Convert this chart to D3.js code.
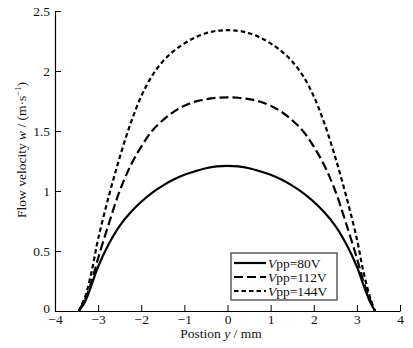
<!DOCTYPE html>
<html><head><meta charset="utf-8">
<script src="https://cdn.jsdelivr.net/npm/d3@7"></script>
<style>body{margin:0;background:#fff}svg{display:block}text{font-family:"Liberation Serif","Times New Roman",serif !important;fill:#111}</style>
</head><body>
<script>
const positions = [-3.45,-3.3,-3.15,-3.0,-2.75,-2.5,-2.25,-2.0,-1.75,-1.5,-1.25,-1.0,-0.75,-0.5,-0.25,0,0.25,0.5,0.75,1.0,1.25,1.5,1.75,2.0,2.25,2.5,2.75,3.0,3.15,3.3,3.42];
const v80  = [0,0.08,0.22,0.37,0.56,0.71,0.82,0.91,0.985,1.045,1.095,1.135,1.165,1.19,1.205,1.21,1.205,1.19,1.165,1.135,1.095,1.045,0.985,0.91,0.82,0.71,0.56,0.37,0.22,0.08,0];
const v112 = [0,0.10,0.25,0.44,0.73,1.0,1.21,1.37,1.50,1.59,1.66,1.71,1.745,1.765,1.777,1.78,1.777,1.765,1.745,1.71,1.66,1.59,1.50,1.37,1.21,1.0,0.73,0.44,0.25,0.10,0];
const v144 = [0,0.12,0.33,0.60,0.96,1.28,1.56,1.79,1.96,2.08,2.165,2.23,2.28,2.315,2.335,2.34,2.335,2.315,2.28,2.23,2.165,2.08,1.96,1.79,1.56,1.28,0.96,0.60,0.33,0.12,0];
const seriesNames = ["80V","112V","144V"];
const xTicks = [-4,-3,-2,-1,0,1,2,3,4];
const yTicks = [0,0.5,1,1.5,2,2.5];

const W=413,H=348;
const FONT="Liberation Serif";
const svg=d3.select("body").append("svg").attr("width",W).attr("height",H);
const x=d3.scaleLinear().domain([-4,4]).range([55,400]);
const y=d3.scaleLinear().domain([0,2.5]).range([311,11]);

const series=[
 {name:seriesNames[0],vals:v80,dash:null},
 {name:seriesNames[1],vals:v112,dash:"9,4"},
 {name:seriesNames[2],vals:v144,dash:"4.5,3"}
];
const line=d3.line().x((d,i)=>x(positions[i])).y(d=>y(d)).curve(d3.curveCatmullRom.alpha(0.5));
series.forEach(s=>{
  svg.append("path").attr("d",line(s.vals)).attr("fill","none").attr("stroke","#000")
   .attr("stroke-width",2.2).attr("stroke-dasharray",s.dash);
});

// axes
const xAxis=svg.append("g").attr("transform","translate(0,311)")
  .call(d3.axisBottom(x).tickValues(xTicks).tickFormat(d3.format("d")).tickSizeInner(-6).tickSizeOuter(0).tickPadding(3));
xAxis.attr("font-family",FONT).attr("font-size",13.5);
xAxis.select(".domain").attr("stroke","#000").attr("stroke-width",1.2);
xAxis.selectAll(".tick line").attr("stroke","#000").attr("stroke-width",1);
xAxis.selectAll("text").attr("fill","#111").attr("dy","0.72em").attr("y",3);
const yAxis=svg.append("g").attr("transform","translate(55,0)")
  .call(d3.axisLeft(y).tickValues(yTicks).tickFormat(d=>String(d)).tickSizeInner(-6).tickSizeOuter(0).tickPadding(5));
yAxis.attr("font-family",FONT).attr("font-size",13.5);
yAxis.select(".domain").attr("stroke","#000").attr("stroke-width",1.2);
yAxis.selectAll(".tick line").attr("stroke","#000").attr("stroke-width",1);
yAxis.selectAll("text").attr("fill","#111");
yAxis.selectAll(".tick").filter(d=>d===0).select("text").attr("dy","0.1em");

// titles
const xt=svg.append("text").attr("x",221).attr("y",338).attr("text-anchor","middle").attr("font-size",13.5);
xt.append("tspan").text("Postion ");
xt.append("tspan").attr("font-style","italic").text("y");
xt.append("tspan").text(" / mm");

const yt=svg.append("text").attr("transform","translate(26,150) rotate(-90)").attr("text-anchor","middle").attr("font-size",13.5);
yt.append("tspan").text("Flow velocity ");
yt.append("tspan").attr("font-style","italic").text("w");
yt.append("tspan").text(" / (m·s");
yt.append("tspan").attr("font-size",8.5).attr("dy","-5").text("−1");
yt.append("tspan").attr("dy","5").text(")");

// legend
const lg=svg.append("g");
lg.append("rect").attr("x",231).attr("y",253).attr("width",106).attr("height",47)
  .attr("fill","#fff").attr("stroke","#333").attr("stroke-width",1.2);
series.forEach((s,i)=>{
  const yy=263+i*14;
  lg.append("line").attr("x1",234).attr("x2",266).attr("y1",yy).attr("y2",yy)
    .attr("stroke","#000").attr("stroke-width",2.2).attr("stroke-dasharray",s.dash);
  const t=lg.append("text").attr("x",268).attr("y",yy+4.5).attr("font-size",13.5);
  t.append("tspan").attr("font-style","italic").text("V");
  t.append("tspan").text("pp="+s.name);
});
</script>
</body></html>
